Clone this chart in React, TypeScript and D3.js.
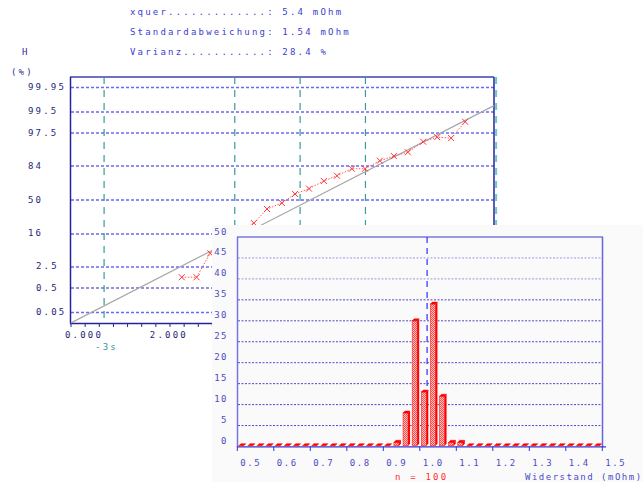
import React from "react";
import * as d3 from "d3";

// ---------- data ----------
const statLines = [
  "xquer.............: 5.4 mOhm",
  "Standardabweichung: 1.54 mOhm",
  "Varianz...........: 28.4 %",
];
const probTicks = [99.95, 99.5, 97.5, 84, 50, 16, 2.5, 0.5, 0.05];
const xquer = 5.4;
const sdev = 1.54;
const sigmaMarks = [-3, -1, 0, 1, 3];
const fitMean = 5.64;
const fitSd = 1.568;
const pointX = [2.61, 2.96, 3.28, 3.6, 3.95, 4.31, 4.62, 4.97, 5.28, 5.61, 5.96, 6.27, 6.62, 6.93, 7.28, 7.61, 7.94, 8.3, 8.63, 8.96, 9.29];
const pointP = [1.19, 1.19, 5.94, 10, 17, 25.0, 39.6, 46.5, 57.0, 63.0, 71.1, 76.1, 82.0, 82.0, 87.5, 90.1, 91.9, 95.6, 96.7, 96.5, 98.9];
const probXLabels = [0, 2, 4, 6, 8];

const binStarts = d3.range(40).map((i) => 0.5 + i * 0.025);
const binCounts = [
  0, 0, 0, 0, 0, 0, 0, 0, 0, 0,
  0, 0, 0, 0, 0, 0, 0, 1, 8, 30,
  13, 34, 12, 1, 1, 0, 0, 0, 0, 0,
  0, 0, 0, 0, 0, 0, 0, 0, 0, 0,
];
const histYTicks = [0, 5, 10, 15, 20, 25, 30, 35, 40, 45, 50];
const histXTicks = [0.5, 0.6, 0.7, 0.8, 0.9, 1.0, 1.1, 1.2, 1.3, 1.4, 1.5];
const histMeanLine = 1.02;
const nLabel = "n = 100";
const xTitle = "Widerstand (mOhm)";

// ---------- helpers ----------
function probit(p: number): number {
  const a = [-3.969683028665376e1, 2.209460984245205e2, -2.759285104469687e2, 1.38357751867269e2, -3.066479806614716e1, 2.506628277459239];
  const b = [-5.447609879822406e1, 1.615858368580409e2, -1.556989798598866e2, 6.680131188771972e1, -1.328068155288572e1];
  const c = [-7.784894002430293e-3, -3.223964580411365e-1, -2.400758277161838, -2.549732539343734, 4.374664141464968, 2.938163982698783];
  const dd = [7.784695709041462e-3, 3.224671290700398e-1, 2.445134137142996, 3.754408661907416];
  const pl = 0.02425;
  if (p < pl) {
    const q = Math.sqrt(-2 * Math.log(p));
    return (((((c[0] * q + c[1]) * q + c[2]) * q + c[3]) * q + c[4]) * q + c[5]) / ((((dd[0] * q + dd[1]) * q + dd[2]) * q + dd[3]) * q + 1);
  }
  if (p > 1 - pl) {
    const q = Math.sqrt(-2 * Math.log(1 - p));
    return -(((((c[0] * q + c[1]) * q + c[2]) * q + c[3]) * q + c[4]) * q + c[5]) / ((((dd[0] * q + dd[1]) * q + dd[2]) * q + dd[3]) * q + 1);
  }
  const q = p - 0.5;
  const r = q * q;
  return ((((((a[0] * r + a[1]) * r + a[2]) * r + a[3]) * r + a[4]) * r + a[5]) * q) / (((((b[0] * r + b[1]) * r + b[2]) * r + b[3]) * r + b[4]) * r + 1);
}

const MONO = "'DejaVu Sans Mono', 'Liberation Mono', monospace";
const fmtLabel = (v: number) => String(v);

export default function App() {
  // probability plot scales
  const px = d3.scaleLinear().domain([0, 9.97]).range([71, 494]);
  const pz = d3.scaleLinear().domain([-3.6, 3.6]).range([323, 77]);
  const py = (pct: number) => pz(probit(pct / 100));

  // histogram scales
  const hx = d3.scaleLinear().domain([0.5, 1.5]).range([237.3, 602.3]);
  const hy = d3.scaleLinear().domain([0, 50]).range([446.5, 237]);

  const fitLine = d3.line<number>()
    .x((v) => px(v))
    .y((v) => pz((v - fitMean) / fitSd));
  const fitVals = [0, 9.97];

  const pts = pointX.map((x, i) => [px(x), py(pointP[i])] as [number, number]);
  const ptLine = d3.line()(pts) || "";

  const xTicks = d3.range(0, 9.97, 1 / 3);

  const textStyle = { fontFamily: MONO, fontSize: 9, letterSpacing: 2.2, whiteSpace: "pre" as const };

  const barDepth = 2;
  const barW = 5;
  const base = hy(0) - 0.8;

  return (
    <svg width={643} height={482} style={{ position: "absolute", left: 0, top: 0, background: "#ffffff" }}>
      <defs>
        <pattern id="hatch" width={2} height={2} patternUnits="userSpaceOnUse">
          <rect width={2} height={2} fill="#ffc4c4" />
          <rect width={1} height={1} fill="#ff4a4a" />
          <rect x={1} y={1} width={1} height={1} fill="#ff4a4a" />
        </pattern>
      </defs>
      <rect x={0} y={0} width={643} height={482} fill="#ffffff" />

      {/* statistics header */}
      {statLines.map((s, i) => (
        <text key={s} x={130} y={12 + i * 20} dominantBaseline="middle" fill="#3c3cd0" style={textStyle}>{s}</text>
      ))}
      <text x={22} y={52} dominantBaseline="middle" fill="#303090" style={textStyle}>H</text>
      <text x={11} y={72} dominantBaseline="middle" fill="#303090" style={textStyle}>(%)</text>

      {/* probability grid lines */}
      {probTicks.map((t) => (
        <g key={t}>
          <line x1={71} x2={494} y1={py(t)} y2={py(t)} stroke={t === 0.5 ? "#2a2ab0" : "#6a6af2"} strokeWidth={t === 0.5 ? 1.2 : 1.6} strokeDasharray="3,2" />
          <text x={t >= 10 ? 28 : 36} y={py(t)} dominantBaseline="middle" fill="#262678" style={textStyle}>{fmtLabel(t)}</text>
        </g>
      ))}

      {/* sigma lines */}
      {sigmaMarks.map((k) => (
        <line key={k} x1={px(xquer + k * sdev)} x2={px(xquer + k * sdev)} y1={77} y2={323}
          stroke={k === 3 ? "#72c6c6" : "#3a9a9a"} strokeWidth={k === 3 ? 2 : 1.2} strokeDasharray="7,6" />
      ))}
      {sigmaMarks.map((k) => (
        <text key={"s" + k} x={px(xquer + k * sdev) - 9} y={347} dominantBaseline="middle" fill="#2f9a9a" style={textStyle}>
          {k === 0 ? "x" : (k > 0 ? "+" : "-") + Math.abs(k) + "s"}
        </text>
      ))}

      {/* frame */}
      <line x1={70} x2={494} y1={77} y2={77} stroke="#7070c4" strokeWidth={2} />
      <line x1={70.5} x2={70.5} y1={77} y2={323.5} stroke="#24249a" strokeWidth={1.5} />
      <line x1={494} x2={494} y1={77} y2={323} stroke="#24249a" strokeWidth={1.5} />
      <line x1={70} x2={494} y1={323.5} y2={323.5} stroke="#24249a" strokeWidth={1.5} />
      {xTicks.map((t) => (
        <line key={t} x1={px(t)} x2={px(t)} y1={323} y2={327} stroke="#24249a" strokeWidth={1} />
      ))}
      {probXLabels.map((v) => (
        <text key={v} x={px(v) - 6} y={335} dominantBaseline="middle" fill="#262678" style={textStyle}>{v.toFixed(3)}</text>
      ))}

      {/* fitted line and data */}
      <path d={fitLine(fitVals) || ""} stroke="#a8a8a8" strokeWidth={1.2} fill="none" />
      <path d={ptLine} stroke="#ff5a5a" strokeWidth={1} strokeDasharray="1.5,1.5" fill="none" />
      {pts.map(([x, y], i) => (
        <g key={i} stroke="#ff3838" strokeWidth={1}>
          <line x1={x - 3} x2={x + 3} y1={y - 3} y2={y + 3} />
          <line x1={x - 3} x2={x + 3} y1={y + 3} y2={y - 3} />
        </g>
      ))}

      {/* histogram overlay panel */}
      <rect x={212} y={225} width={431} height={257} fill="#fafafa" />
      {histYTicks.map((t) => (
        <g key={t}>
          {t > 0 && t < 50 && (
            <line x1={238} x2={602} y1={hy(t)} y2={hy(t)} stroke={t >= 40 ? "#9a9ae2" : "#4a4ac8"} strokeWidth={1} strokeDasharray="2,1.5" />
          )}
          <text x={228} y={hy(t) - 5} textAnchor="end" dominantBaseline="middle" fill="#4c4cc4" style={{ ...textStyle, letterSpacing: 1.5 }}>{t}</text>
        </g>
      ))}
      <line x1={237} x2={603} y1={237} y2={237} stroke="#9a9ae0" strokeWidth={2} />
      <line x1={237.5} x2={237.5} y1={237} y2={447} stroke="#7676dc" strokeWidth={1.5} />
      <line x1={602.5} x2={602.5} y1={237} y2={447} stroke="#6464d8" strokeWidth={1.5} />
      <line x1={hx(histMeanLine)} x2={hx(histMeanLine)} y1={237} y2={446} stroke="#3c3cff" strokeWidth={1.3} strokeDasharray="6,5" />
      <line x1={237} x2={606} y1={446.8} y2={446.8} stroke="#3434d0" strokeWidth={1.3} />

      {/* bars */}
      {binStarts.map((b, i) => {
        const x0 = hx(b) + 1.5;
        const y = binCounts[i] > 0 ? hy(binCounts[i]) : base;
        const side = `${x0 + barW},${y} ${x0 + barW + barDepth},${y - barDepth} ${x0 + barW + barDepth},${base - barDepth} ${x0 + barW},${base}`;
        const top = `${x0},${y} ${x0 + barDepth},${y - barDepth} ${x0 + barW + barDepth},${y - barDepth} ${x0 + barW},${y}`;
        return (
          <g key={b}>
            {binCounts[i] > 0 && <rect x={x0} y={y} width={barW} height={base - y} fill="url(#hatch)" stroke="#ff2020" strokeWidth={0.6} />}
            <polygon points={side} fill="#ff0000" />
            <polygon points={top} fill="#ff0000" stroke="#ff0000" strokeWidth={0.5} />
          </g>
        );
      })}

      {histXTicks.map((t) => (
        <g key={t}>
          <line x1={hx(t)} x2={hx(t)} y1={446.5} y2={451} stroke="#3434d0" strokeWidth={1} />
          <text x={hx(t) + 3} y={463} dominantBaseline="middle" fill="#4c4cc4" style={{ ...textStyle, letterSpacing: 1.5 }}>{t.toFixed(1)}</text>
        </g>
      ))}
      <text x={395} y={477} dominantBaseline="middle" fill="#ff3030" style={textStyle}>{nLabel}</text>
      <text x={525} y={477} dominantBaseline="middle" fill="#4c4cc4" style={{ ...textStyle, letterSpacing: 1.5 }}>{xTitle}</text>
    </svg>
  );
}
